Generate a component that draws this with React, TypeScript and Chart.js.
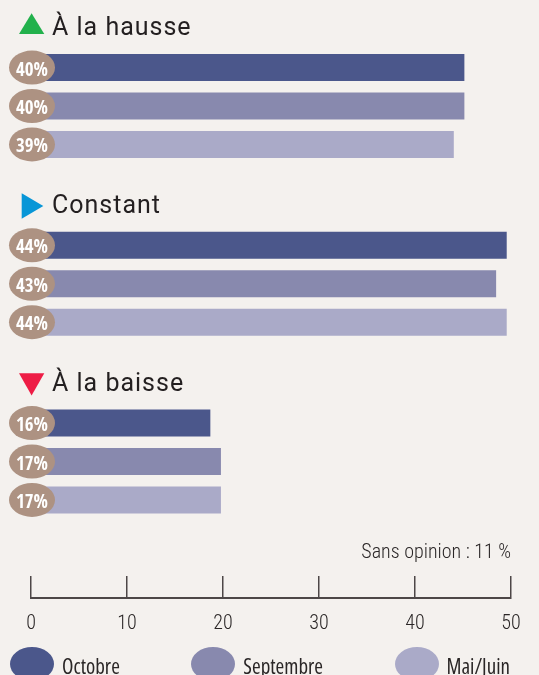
import React, { useEffect, useRef } from 'react';
import { Chart, registerables } from 'chart.js';

Chart.register(...registerables);

// ---- data ----
const categories = ['À la hausse', 'Constant', 'À la baisse'];
const trends = ['up', 'right', 'down'];
const seriesNames = ['Octobre', 'Septembre', 'Mai/Juin'];
const octobre = [40, 44, 16];
const septembre = [40, 43, 17];
const maiJuin = [39, 44, 17];
const axisTicks = [0, 10, 20, 30, 40, 50];
const note = 'Sans opinion : 11 %';

// ---- styles ----
const BG = '#f4f1ee';
const COLORS = ['#4b578b', '#8889ae', '#aaaac8'];
const BADGE = '#ad9282';
const MARKS: Record<string, string> = { up: '#22b14c', right: '#0896d7', down: '#ee1c45' };
const AXIS = '#4d4747';
const TEXT = '#2a2626';
const HEAD = 'Roboto, "Noto Sans", sans-serif';

const headerPlugin = {
  id: 'groupHeaders',
  afterDatasetsDraw(chart: any) {
    const { ctx, chartArea } = chart;
    const yScale = chart.scales.y;
    const labels = chart.data.labels as string[];
    labels.forEach((lab, i) => {
      const base = yScale.getPixelForValue(i) - 71;
      const left = chartArea.left;
      const t = trends[i];
      ctx.save();
      ctx.fillStyle = MARKS[t];
      ctx.beginPath();
      if (t === 'up') {
        ctx.moveTo(left - 22, base - 1);
        ctx.lineTo(left + 3.3, base - 1);
        ctx.lineTo(left - 9.4, base - 21.7);
      } else if (t === 'right') {
        ctx.moveTo(left - 19.3, base - 19.6);
        ctx.lineTo(left + 2.3, base - 6.8);
        ctx.lineTo(left - 19.3, base + 6);
      } else {
        ctx.moveTo(left - 22, base - 17.3);
        ctx.lineTo(left + 3.3, base - 17.3);
        ctx.lineTo(left - 9.4, base + 5);
      }
      ctx.closePath();
      ctx.fill();
      ctx.fillStyle = '#231f20';
      ctx.font = '25px ' + HEAD;
      try {
        (ctx as any).letterSpacing = '1px';
      } catch (e) {}
      ctx.textAlign = 'left';
      ctx.textBaseline = 'alphabetic';
      ctx.fillText(lab, left + 11, base);
      ctx.restore();
    });
  },
};

const badgePlugin = {
  id: 'valueBadges',
  afterDatasetsDraw(chart: any) {
    const { ctx, chartArea } = chart;
    chart.data.datasets.forEach((ds: any, di: number) => {
      const meta = chart.getDatasetMeta(di);
      meta.data.forEach((bar: any, j: number) => {
        const cx = chartArea.left - 9;
        const cy = bar.y;
        ctx.save();
        ctx.fillStyle = BADGE;
        ctx.beginPath();
        ctx.ellipse(cx, cy, 23, 17, 0, 0, Math.PI * 2);
        ctx.fill();
        ctx.fillStyle = '#ffffff';
        ctx.font = 'bold 19px "Open Sans Condensed", Roboto, sans-serif';
        ctx.textAlign = 'center';
        ctx.textBaseline = 'alphabetic';
        ctx.fillText(ds.data[j] + '%', cx, cy + 8);
        ctx.restore();
      });
    });
  },
};

export default function App() {
  const barRef = useRef<HTMLCanvasElement>(null);
  const axisRef = useRef<HTMLCanvasElement>(null);

  useEffect(() => {
    document.body.style.margin = '0';
    document.body.style.background = BG;
    const series = [octobre, septembre, maiJuin];
    const c1 = new Chart(barRef.current as HTMLCanvasElement, {
      type: 'bar',
      data: {
        labels: categories,
        datasets: series.map((d, i) => ({
          label: seriesNames[i],
          data: d,
          backgroundColor: COLORS[i],
          borderWidth: 0,
          categoryPercentage: 0.648,
          barPercentage: 0.703,
        })),
      },
      options: {
        indexAxis: 'y',
        animation: false,
        responsive: false,
        layout: { padding: { left: 41, right: 21.7, top: 17.1, bottom: 9.6 } },
        plugins: { legend: { display: false }, tooltip: { enabled: false } },
        scales: {
          x: { type: 'linear', min: 0, max: 45, display: false },
          y: { type: 'category', display: false },
        },
      },
      plugins: [headerPlugin, badgePlugin],
    } as any);

    const c2 = new Chart(axisRef.current as HTMLCanvasElement, {
      type: 'scatter',
      data: { datasets: [{ data: [] }] },
      options: {
        animation: false,
        responsive: false,
        layout: { padding: { left: 31, right: 28, top: 0, bottom: 0 } },
        plugins: {
          legend: { display: false },
          tooltip: { enabled: false },
          title: {
            display: true,
            text: note,
            align: 'end',
            color: TEXT,
            font: { family: 'Roboto', size: 20, weight: '300 condensed', lineHeight: 1.2 },
            padding: { top: 11, bottom: 11 },
          },
        },
        scales: {
          x: {
            type: 'linear',
            min: 0,
            max: 50,
            afterBuildTicks: (scale: any) => {
              scale.ticks = axisTicks.map((v) => ({ value: v }));
            },
            grid: { drawOnChartArea: true, drawTicks: false, color: AXIS, lineWidth: 1.5 },
            border: { display: true, color: AXIS, width: 2 },
            ticks: {
              padding: 14,
              color: TEXT,
              font: { family: 'Roboto', size: 20, weight: '300 condensed', lineHeight: 1.2 },
            },
          },
          y: { display: false, min: 0, max: 1 },
        },
      },
    } as any);

    return () => {
      c1.destroy();
      c2.destroy();
    };
  }, []);

  return (
    <div style={{ position: 'relative', width: 539, height: 675, background: BG, overflow: 'hidden' }}>
      <canvas
        ref={barRef}
        width={539}
        height={560}
        style={{ position: 'absolute', left: 0, top: 0, width: 539, height: 560 }}
      />
      <canvas
        ref={axisRef}
        width={539}
        height={120}
        style={{ position: 'absolute', left: 0, top: 530, width: 539, height: 120 }}
      />
      <div
        style={{
          position: 'absolute',
          left: 10,
          top: 647,
          width: 500,
          height: 34,
          display: 'flex',
          justifyContent: 'space-between',
          alignItems: 'center',
        }}
      >
        {seriesNames.map((name, i) => (
          <div key={name} style={{ display: 'flex', alignItems: 'center' }}>
            <div style={{ width: 44, height: 34, borderRadius: '50%', background: COLORS[i], marginRight: 8 }} />
            <span
              style={{
                fontFamily: '"Open Sans"',
                fontStretch: '75%',
                fontSize: 21,
                color: TEXT,
                lineHeight: '34px',
                paddingTop: 3,
              }}
            >
              {name}
            </span>
          </div>
        ))}
      </div>
    </div>
  );
}
